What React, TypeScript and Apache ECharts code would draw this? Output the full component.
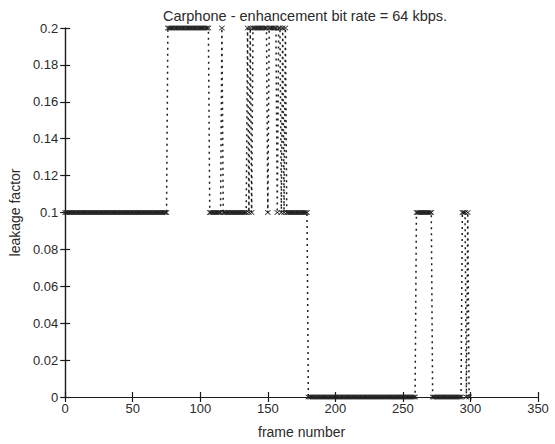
import React, { useEffect, useRef } from "react";
import * as echarts from "echarts";

// Leakage factor per frame, stored as runs (level, number of consecutive frames)
const runLevels = [0.1, 0.2, 0.1, 0.2, 0.1, 0.2, 0.1, 0.2, 0.1, 0.2, 0.1, 0.2, 0.1, 0.2, 0.1, 0.2, 0.1, 0.2, 0.1, 0, 0.1, 0, 0.1, 0, 0.1, 0];
const runLengths = [76, 31, 9, 1, 18, 1, 1, 1, 1, 11, 1, 6, 1, 2, 1, 1, 1, 1, 16, 80, 12, 22, 3, 1, 1, 1];
const xTicks = [0, 50, 100, 150, 200, 250, 300, 350];
const yTicks = [0, 0.02, 0.04, 0.06, 0.08, 0.1, 0.12, 0.14, 0.16, 0.18, 0.2];

const titleText = "Carphone - enhancement bit rate = 64 kbps.";
const xName = "frame number";
const yName = "leakage factor";

const X_MARK = "path://M0,1 L1,0 L5,4 L9,0 L10,1 L6,5 L10,9 L9,10 L5,6 L1,10 L0,9 L4,5 Z";

export default function App() {
  const ref = useRef<HTMLDivElement>(null);
  useEffect(() => {
    if (!ref.current) return;
    const chart = echarts.init(ref.current, null, { renderer: "svg" });
    const data: number[][] = [];
    let frame = 0;
    runLevels.forEach((lvl, i) => {
      for (let k = 0; k < runLengths[i]; k++) {
        data.push([frame, lvl]);
        frame++;
      }
    });
    const font = "Liberation Sans, Arial, sans-serif";
    const txt = "#2a2a2a";
    const axisCommon = {
      axisLine: { show: true, lineStyle: { color: "#1a1a1a", width: 1.2 } },
      axisTick: { show: true, inside: true, length: 5, lineStyle: { color: "#1a1a1a", width: 1.2 } },
      splitLine: { show: false },
    };
    chart.setOption({
      animation: false,
      backgroundColor: "#fff",
      title: {
        text: titleText,
        left: 300,
        textAlign: "center",
        top: 3,
        textStyle: { fontFamily: font, fontSize: 14.5, fontWeight: "normal", color: txt },
      },
      grid: { left: 63, right: 17, top: 28, bottom: 45 },
      xAxis: [
        {
          type: "value",
          min: 0,
          max: 350,
          interval: 50,
          position: "bottom",
          name: xName,
          nameLocation: "middle",
          nameGap: 28,
          nameTextStyle: { fontFamily: font, fontSize: 14, color: txt },
          axisLabel: { fontFamily: font, fontSize: 13, color: txt, margin: 5, formatter: (v: number) => (xTicks.includes(v) ? String(v) : "") },
          ...axisCommon,
        },
        {
          type: "value",
          min: 0,
          max: 350,
          interval: 50,
          position: "top",
          axisLabel: { show: false },
          ...axisCommon,
        },
      ],
      yAxis: [
        {
          type: "value",
          min: 0,
          max: 0.2,
          interval: 0.02,
          position: "left",
          name: yName,
          nameLocation: "middle",
          nameGap: 40,
          nameTextStyle: { fontFamily: font, fontSize: 14, color: txt },
          axisLabel: {
            fontFamily: font,
            fontSize: 13,
            color: txt,
            margin: 7,
            formatter: (v: number) => {
              const t = yTicks.find((y) => Math.abs(y - v) < 1e-9);
              return t === undefined ? "" : String(Number(t.toFixed(2)));
            },
          },
          ...axisCommon,
        },
        {
          type: "value",
          min: 0,
          max: 0.2,
          interval: 0.02,
          position: "right",
          axisLabel: { show: false },
          ...axisCommon,
        },
      ],
      series: [
        {
          type: "line",
          data,
          symbol: X_MARK,
          symbolSize: [6, 5],
          showSymbol: true,
          showAllSymbol: true,
          clip: false,
          lineStyle: { color: "#1e1e1e", width: 1.5, type: [2, 4] },
          itemStyle: { color: "#1e1e1e" },
        },
      ],
    });
    return () => chart.dispose();
  }, []);
  return <div ref={ref} style={{ width: 555, height: 444, position: "absolute", left: 0, top: 0 }} />;
}
